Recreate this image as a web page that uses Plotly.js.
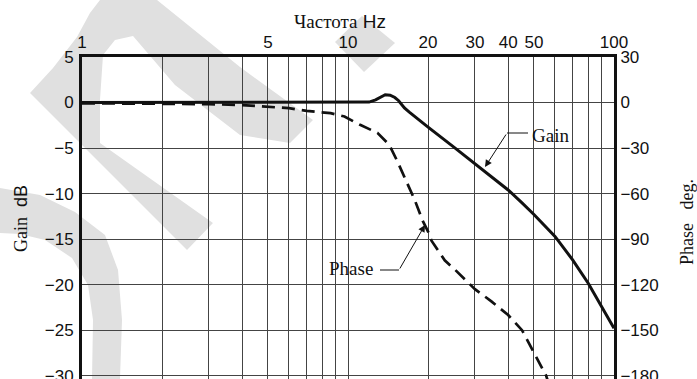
<!DOCTYPE html>
<html>
<head>
<meta charset="utf-8">
<script src="https://cdn.plot.ly/plotly-3.0.1.min.js"></script>
<style>
  html, body { margin: 0; padding: 0; background: #ffffff; }
  #chart { width: 697px; height: 379px; }
</style>
</head>
<body>
<div id="chart"></div>
<script>
// ---- data ----
const freqGain = [1, 2, 5, 10, 11, 12, 12.7, 13.3, 13.8, 14.4, 15, 15.5, 16.3, 17, 18, 20, 25, 30, 35, 40, 45, 50, 60, 70, 80, 90, 100];
const gainDb   = [0, 0, 0, 0, 0, 0.05, 0.3, 0.65, 0.85, 0.8, 0.55, 0.2, -0.6, -1.05, -1.6, -2.7, -4.9, -6.7, -8.3, -9.6, -11.0, -12.3, -14.7, -17.3, -19.85, -22.4, -24.8];

const freqPhase = [1, 2, 3, 4, 5, 6, 7, 8.6, 9.7, 11.1, 12.9, 14.3, 15.35, 16.5, 17.8, 19.1, 20, 20.6, 23.1, 25.2, 30, 34.6, 40, 45.1, 50.1, 55.6, 57];
const phaseDeg  = [-0.5, -0.7, -1.05, -1.7, -2.6, -3.7, -5.5, -7, -9.2, -14.7, -20, -27.9, -38.9, -51, -64, -78, -85, -91, -104, -110, -123, -131, -140, -150, -165, -180, -186];

const xGridVals = [1,2,3,4,5,6,7,8,9,10,20,30,40,50,60,70,80,90,100];
const xLabeled  = [1,5,10,20,30,40,50,100];
const gainTicks  = [5, 0, -5, -10, -15, -20, -25, -30];
const phaseTicks = [30, 0, -30, -60, -90, -120, -150, -180];

const titleText = 'Частота';
const titleUnit = 'Hz';
const gainTitle = 'Gain';
const gainUnit  = 'dB';
const phaseTitle = 'Phase';
const phaseUnit = 'deg.';
const gainLabel = 'Gain';
const phaseLabel = 'Phase';

// ---- layout helpers ----
const W = 697, H = 379;
const M = {l: 82, r: 83, t: 57, b: 0};
const PW = W - M.l - M.r, PH = H - M.t - M.b;
const px = v => (v - M.l) / PW;
const py = v => (H - M.b - v) / PH;

const SANS = 'Liberation Sans, Arial, Helvetica, sans-serif';
const SERIF = 'Liberation Serif, Times New Roman, serif';
const fmt = v => (v < 0 ? '\u2212' + Math.abs(v) : String(v));

const traces = [
  {x: freqGain, y: gainDb, type: 'scatter', mode: 'lines', yaxis: 'y',
   line: {color: '#111111', width: 3}, hoverinfo: 'skip'},
  {x: freqPhase, y: phaseDeg, type: 'scatter', mode: 'lines', yaxis: 'y2',
   line: {color: '#111111', width: 2.7, dash: '13px,7px'}, hoverinfo: 'skip'}
];

// watermark (light grey decoration behind the grid)
function poly(pts) {
  return 'M' + pts.map(p => px(p[0]).toFixed(4) + ',' + py(p[1]).toFixed(4)).join('L') + 'Z';
}
const wm = '#e0e0e0';
const watermark = [
  [[30,93],[53,68],[77,37],[90,13],[100,0],[157,0],[240,67],[313,120],[290,143],[240,135],[175,85],[133,36],[115,40],[103,55],[100,100],[100,143],[213,223],[187,250]],
  [[335,42],[362,16],[395,43],[364,72]],
  [[0,188],[40,195],[75,212],[105,235],[118,270],[122,320],[120,379],[92,379],[93,320],[88,285],[72,258],[45,240],[20,234],[0,233]]
].map(p => ({type: 'path', path: poly(p), xref: 'paper', yref: 'paper',
             fillcolor: wm, line: {width: 0}, layer: 'below'}));

const leaders = [
  {type: 'line', xref: 'paper', yref: 'paper', x0: px(507), y0: py(133), x1: px(528), y1: py(133), line: {color: '#111', width: 1}},
  {type: 'line', xref: 'paper', yref: 'paper', x0: px(380), y0: py(270), x1: px(399), y1: py(270), line: {color: '#111', width: 1}}
];

const C = {xanchor: 'center', yanchor: 'middle', showarrow: false, xref: 'paper', yref: 'paper'};
const annotations = [
  Object.assign({}, C, {x: px(340), y: py(21),
   text: '<span style="font-family:' + SERIF + '">' + titleText + '</span> ' + titleUnit,
   font: {family: SANS, size: 19, color: '#111'}}),
  Object.assign({}, C, {x: px(21), y: py(219), textangle: -90,
   text: '<span style="font-family:' + SERIF + '">' + gainTitle + '</span>  ' + gainUnit,
   font: {family: SANS, size: 18, color: '#111'}}),
  Object.assign({}, C, {x: px(687), y: py(222), textangle: -90,
   text: phaseTitle + '   ' + phaseUnit,
   font: {family: SERIF, size: 18, color: '#111'}}),
  Object.assign({}, C, {x: px(550), y: py(135),
   text: gainLabel, font: {family: SERIF, size: 19, color: '#111'}}),
  Object.assign({}, C, {x: px(351), y: py(268),
   text: phaseLabel, font: {family: SERIF, size: 19, color: '#111'}}),
  {xref: 'paper', yref: 'paper', x: px(485), y: py(167), text: '', showarrow: true,
   ax: 22, ay: -34, arrowhead: 2, arrowsize: 1.4, arrowwidth: 1, arrowcolor: '#111'},
  {xref: 'paper', yref: 'paper', x: px(425), y: py(225), text: '', showarrow: true,
   ax: -26, ay: 45, arrowhead: 2, arrowsize: 1.4, arrowwidth: 1, arrowcolor: '#111'}
];

const layout = {
  width: W, height: H,
  margin: M,
  paper_bgcolor: '#ffffff',
  plot_bgcolor: 'rgba(0,0,0,0)',
  showlegend: false,
  font: {family: SANS, size: 17, color: '#111'},
  xaxis: {
    type: 'log', range: [0, 2], side: 'top',
    tickmode: 'array', tickvals: xGridVals,
    ticktext: xGridVals.map(v => xLabeled.includes(v) ? String(v) : ''),
    showgrid: true, gridcolor: '#444444', gridwidth: 1,
    showline: true, linecolor: '#111', linewidth: 3,
    ticks: '', ticklabelstandoff: -1, ticklabeloverflow: 'allow',
    tickfont: {family: SANS, size: 17, color: '#111'},
    zeroline: false, fixedrange: true
  },
  yaxis: {
    range: [-30.36, 5],
    tickmode: 'array', tickvals: gainTicks, ticktext: gainTicks.map(fmt),
    showgrid: true, gridcolor: '#444444', gridwidth: 1,
    showline: true, linecolor: '#111', linewidth: 3,
    ticks: '', ticklabelstandoff: 2, ticklabeloverflow: 'allow',
    tickfont: {family: SANS, size: 17, color: '#111'},
    zeroline: false, fixedrange: true
  },
  yaxis2: {
    overlaying: 'y', side: 'right',
    range: [-182.16, 30],
    tickmode: 'array', tickvals: phaseTicks, ticktext: phaseTicks.map(fmt),
    showgrid: false,
    showline: true, linecolor: '#111', linewidth: 3,
    ticks: '', ticklabelstandoff: 0, ticklabeloverflow: 'allow',
    tickfont: {family: SANS, size: 17, color: '#111'},
    zeroline: false, fixedrange: true
  },
  shapes: watermark.concat(leaders),
  annotations: annotations
};

Plotly.newPlot('chart', traces, layout, {staticPlot: true, displayModeBar: false});
</script>
</body>
</html>
